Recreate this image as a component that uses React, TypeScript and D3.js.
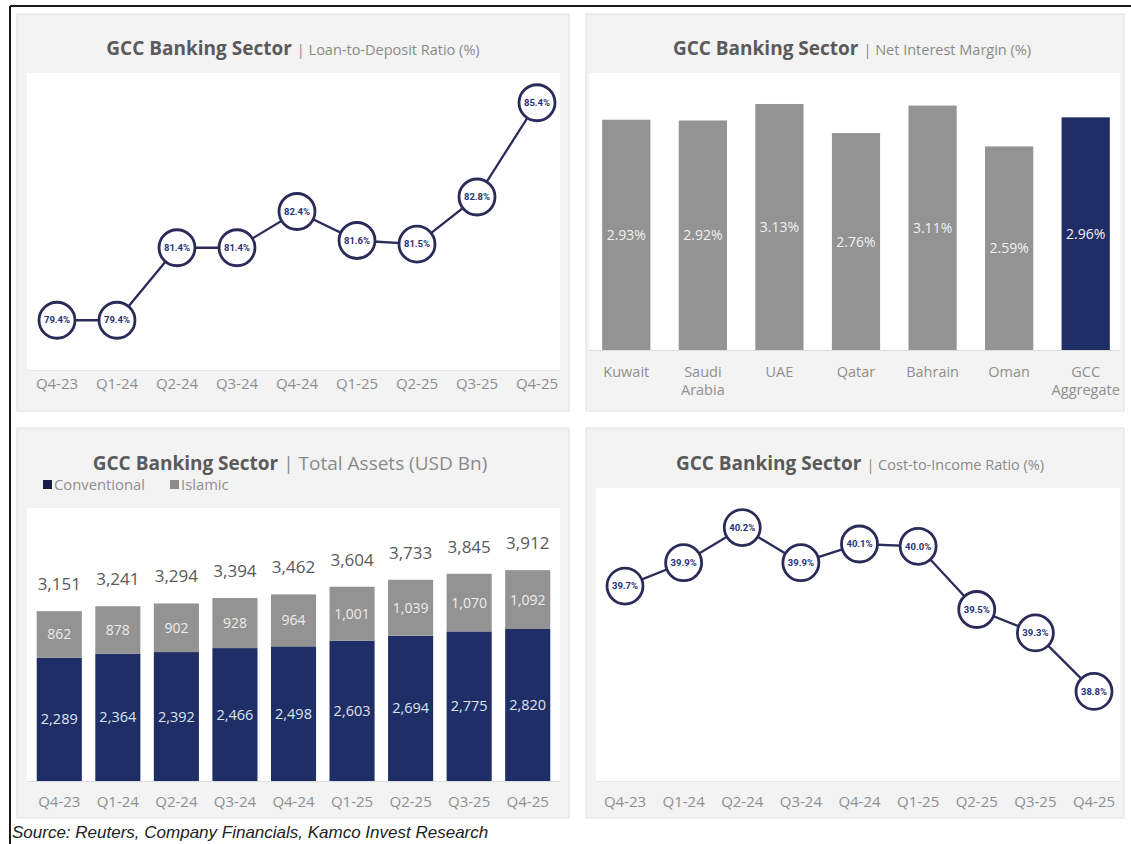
import React from 'react';
import * as d3 from 'd3';

const quarters = ['Q4-23', 'Q1-24', 'Q2-24', 'Q3-24', 'Q4-24', 'Q1-25', 'Q2-25', 'Q3-25', 'Q4-25'];
const ldrValues = [79.4, 79.4, 81.4, 81.4, 82.4, 81.6, 81.5, 82.8, 85.4];
const nimCountries = ['Kuwait', 'Saudi Arabia', 'UAE', 'Qatar', 'Bahrain', 'Oman', 'GCC Aggregate'];
const nimValues = [2.93, 2.92, 3.13, 2.76, 3.11, 2.59, 2.96];
const conventional = [2289, 2364, 2392, 2466, 2498, 2603, 2694, 2775, 2820];
const islamic = [862, 878, 902, 928, 964, 1001, 1039, 1070, 1092];
const totals = [3151, 3241, 3294, 3394, 3462, 3604, 3733, 3845, 3912];
const cirValues = [39.7, 39.9, 40.2, 39.9, 40.06, 40.04, 39.5, 39.3, 38.8];

const NAVY = '#1f2e66';
const GREY_BAR = '#939393';
const LINE = '#2a2b58';
const TICK = '#8f8f8f';
const FONT = "'Open Sans', 'DejaVu Sans', sans-serif";

function Panel({ x, y, w, h }: { x: number; y: number; w: number; h: number }) {
  return <rect x={x} y={y} width={w} height={h} fill="#f3f3f3" stroke="#e0e0e0" strokeWidth={1} />;
}

function Title({ cx, y, sub, subSize = 14.5 }: { cx: number; y: number; sub: string; subSize?: number }) {
  return (
    <text x={cx} y={y} textAnchor="middle" fontFamily={FONT}>
      <tspan fontWeight={700} fontSize={19} fill="#5a5a5a">GCC Banking Sector</tspan>
      <tspan fontSize={subSize} fill="#8a8a8a" dx={5}>{'| ' + sub}</tspan>
    </text>
  );
}

function LineChart({ values, x, y, r }: { values: number[]; x: d3.ScalePoint<string>; y: d3.ScaleLinear<number, number>; r: number }) {
  const line = d3.line<number>().x((_, i) => x(quarters[i]) as number).y((d) => y(d));
  return (
    <g>
      <path d={line(values) || ''} fill="none" stroke={LINE} strokeWidth={2.3} />
      {values.map((v, i) => (
        <g key={i} transform={`translate(${x(quarters[i])},${y(v)})`}>
          <circle r={r} fill="#ffffff" stroke={LINE} strokeWidth={2.8} />
          <text y={3.2} textAnchor="middle" fontFamily="'Liberation Sans Narrow', 'Roboto', sans-serif" fontWeight={700} fontSize={9.5} fill="#2b3170">
            {d3.format('.1f')(v) + '%'}
          </text>
        </g>
      ))}
    </g>
  );
}

export default function App() {
  // Loan-to-Deposit
  const ldrX = d3.scalePoint<string>().domain(quarters).range([57, 537]);
  const ldrY = d3.scaleLinear().domain([78, 86]).range([371, 81]);

  // NIM
  const nimX = d3.scaleBand<string>().domain(nimCountries).range([588, 1124]).paddingInner(0.37).paddingOuter(0.185);
  const nimY = d3.scaleLinear().domain([0, 3.5]).range([350, 350 - 3.5 * 78.6]);

  // Total assets
  const taX = d3.scaleBand<string>().domain(quarters).range([30, 557]).paddingInner(0.23).paddingOuter(0.115);
  const taY = d3.scaleLinear().domain([0, 5000]).range([781, 781 - 5000 * 0.0539]);
  const fmt = d3.format(',');

  // Cost-to-income
  const cirX = d3.scalePoint<string>().domain(quarters).range([625, 1094]);
  const cirY = d3.scaleLinear().domain([38, 41]).range([785, 434]);

  return (
    <svg width={1131} height={844} style={{ position: 'absolute', left: 0, top: 0, background: '#ffffff' }}>
      <rect x={0} y={0} width={1131} height={844} fill="#ffffff" />
      {/* outer frame */}
      <line x1={10} y1={6} x2={1131} y2={6} stroke="#1a1a1a" strokeWidth={2} />
      <line x1={10} y1={6} x2={10} y2={844} stroke="#1a1a1a" strokeWidth={2} />

      {/* ===== Top-left: Loan-to-Deposit ===== */}
      <Panel x={17} y={14} w={552} h={397} />
      <Title cx={293} y={55} sub="Loan-to-Deposit Ratio (%)" />
      <rect x={27} y={73} width={533} height={297} fill="#ffffff" />
      <line x1={27} x2={560} y1={370.5} y2={370.5} stroke="#e6e6e6" />
      {quarters.map((q) => (
        <text key={q} x={ldrX(q)} y={389} textAnchor="middle" fontFamily={FONT} fontSize={15} fill={TICK}>{q}</text>
      ))}
      <LineChart values={ldrValues} x={ldrX} y={ldrY} r={18} />

      {/* ===== Top-right: Net Interest Margin ===== */}
      <Panel x={586} y={14} w={538} h={397} />
      <Title cx={852} y={55} sub="Net Interest Margin (%)" />
      <rect x={589} y={73} width={531} height={277} fill="#ffffff" />
      <line x1={589} x2={1120} y1={350.5} y2={350.5} stroke="#dcdcdc" />
      {nimCountries.map((c, i) => {
        const bx = nimX(c) as number;
        const top = nimY(nimValues[i]);
        const isAgg = i === nimCountries.length - 1;
        return (
          <g key={c}>
            <rect x={bx} y={top} width={nimX.bandwidth()} height={nimY(0) - top} fill={isAgg ? NAVY : GREY_BAR} />
            <text x={bx + nimX.bandwidth() / 2} y={(top + nimY(0)) / 2 + 5} textAnchor="middle" fontFamily={FONT} fontSize={14} fill="#f0f0f0">
              {d3.format('.2f')(nimValues[i]) + '%'}
            </text>
            {c.split(' ').map((part, j) => (
              <text key={j} x={bx + nimX.bandwidth() / 2} y={377 + j * 18} textAnchor="middle" fontFamily={FONT} fontSize={14.5} fill={TICK}>{part}</text>
            ))}
          </g>
        );
      })}

      {/* ===== Bottom-left: Total Assets ===== */}
      <Panel x={17} y={428} w={552} h={390} />
      <Title cx={290} y={470} sub="Total Assets (USD Bn)" subSize={19} />
      <rect x={43} y={480} width={9} height={9} fill="#1c1c4a" />
      <text x={54} y={490} fontFamily={FONT} fontSize={14.8} fill={TICK}>Conventional</text>
      <rect x={170} y={480} width={9} height={9} fill="#8c8c8c" />
      <text x={181} y={490} fontFamily={FONT} fontSize={14.8} fill={TICK}>Islamic</text>
      <rect x={27} y={508} width={533} height={273} fill="#ffffff" />
      <line x1={27} x2={560} y1={781.5} y2={781.5} stroke="#dcdcdc" />
      {quarters.map((q, i) => {
        const bx = taX(q) as number;
        const bw = taX.bandwidth();
        const cTop = taY(conventional[i]);
        const iTop = taY(conventional[i] + islamic[i]);
        const cx = bx + bw / 2;
        return (
          <g key={q}>
            <rect x={bx} y={cTop} width={bw} height={taY(0) - cTop} fill={NAVY} />
            <rect x={bx} y={iTop} width={bw} height={cTop - iTop} fill={GREY_BAR} />
            <text x={cx} y={(cTop + taY(0)) / 2 + 5} textAnchor="middle" fontFamily={FONT} fontSize={14.5} fill="#dde2ef">{fmt(conventional[i])}</text>
            <text x={cx} y={(iTop + cTop) / 2 + 5} textAnchor="middle" fontFamily={FONT} fontSize={14} fill="#ececec">{fmt(islamic[i])}</text>
            <text x={cx} y={taY(totals[i]) - 21} textAnchor="middle" fontFamily={FONT} fontSize={17} fill="#595959">{fmt(totals[i])}</text>
            <text x={cx} y={807} textAnchor="middle" fontFamily={FONT} fontSize={15} fill={TICK}>{q}</text>
          </g>
        );
      })}

      {/* ===== Bottom-right: Cost-to-Income ===== */}
      <Panel x={586} y={428} w={538} h={390} />
      <Title cx={860} y={470} sub="Cost-to-Income Ratio (%)" />
      <rect x={596} y={488} width={524} height={293} fill="#ffffff" />
      <line x1={596} x2={1120} y1={781.5} y2={781.5} stroke="#e6e6e6" />
      {quarters.map((q) => (
        <text key={q} x={cirX(q)} y={807} textAnchor="middle" fontFamily={FONT} fontSize={15} fill={TICK}>{q}</text>
      ))}
      <LineChart values={cirValues} x={cirX} y={cirY} r={18} />

      {/* Source */}
      <text x={12} y={838} fontFamily="'Liberation Sans', Arial, sans-serif" fontStyle="italic" fontSize={17} fill="#222222">
        Source: Reuters, Company Financials, Kamco Invest Research
      </text>
    </svg>
  );
}
